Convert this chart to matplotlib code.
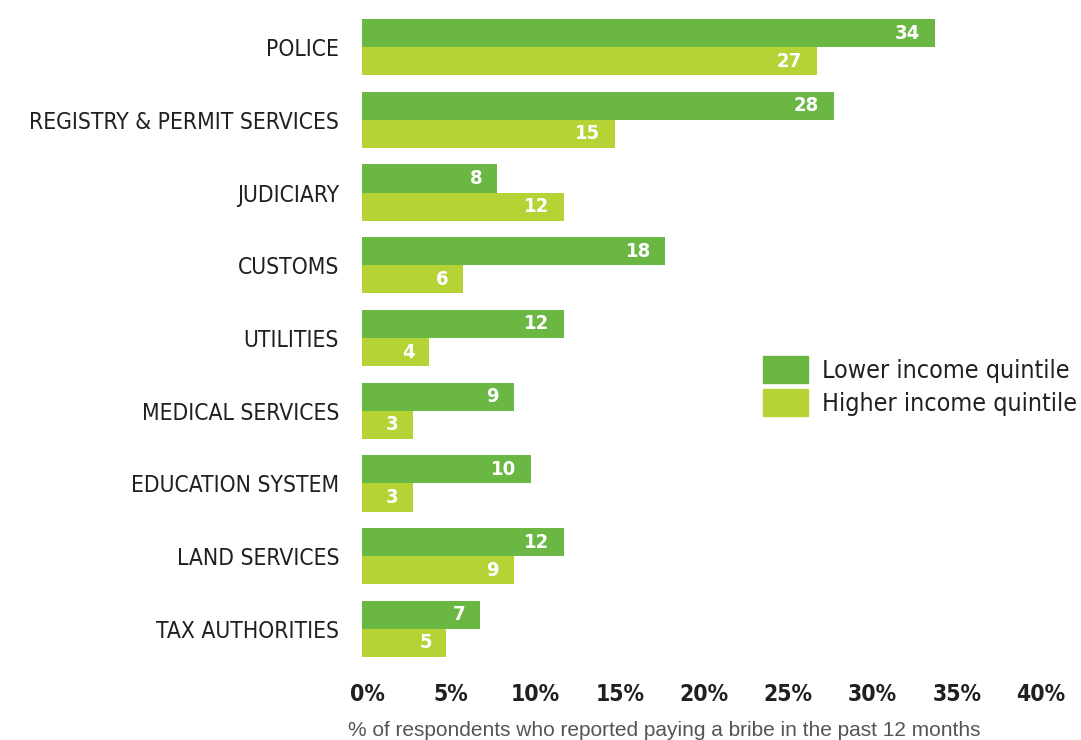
import matplotlib
matplotlib.use("Agg")
import matplotlib.pyplot as plt
import matplotlib.transforms as mtransforms
from matplotlib.patches import Patch
import numpy as np

categories = ["POLICE", "REGISTRY & PERMIT SERVICES", "JUDICIARY", "CUSTOMS",
              "UTILITIES", "MEDICAL SERVICES", "EDUCATION SYSTEM",
              "LAND SERVICES", "TAX AUTHORITIES"]
lower_income = [34, 28, 8, 18, 12, 9, 10, 12, 7]
higher_income = [27, 15, 12, 6, 4, 3, 3, 9, 5]
xticks = [0, 5, 10, 15, 20, 25, 30, 35, 40]
xtick_labels = ["0%", "5%", "10%", "15%", "20%", "25%", "30%", "35%", "40%"]

green = "#6ab843"
lime = "#b5d334"
dark = "#231f20"

fig = plt.figure(figsize=(10.81, 7.40), dpi=100)
ax = fig.add_axes([362 / 1081, 1 - 657 / 740, (1036 - 362) / 1081, (657 - 19) / 740])

y = np.arange(len(categories))
h = 0.385
b1 = ax.barh(y - h / 2, lower_income, height=h, color=green)
b2 = ax.barh(y + h / 2, higher_income, height=h, color=lime)

for bars, vals in [(b1, lower_income), (b2, higher_income)]:
    for bar, v in zip(bars, vals):
        ax.annotate(str(v), (bar.get_width(), bar.get_y() + bar.get_height() / 2),
                    xytext=(-10.5, 0), textcoords="offset points",
                    ha="right", va="center", color="white",
                    fontsize=14.5, fontweight="bold", fontstretch="condensed")

ax.set_xlim(0, 40)
ax.set_ylim(len(categories) - 1 + h, -h)
ax.set_yticks(y)
ax.set_yticklabels(categories, fontsize=16.4, color=dark, fontstretch="condensed")
ax.set_xticks(xticks)
ax.set_xticklabels(xtick_labels, fontsize=16.5, fontweight="bold", color=dark,
                   fontstretch="condensed")
ax.tick_params(axis="y", length=0, pad=16.5)
ax.tick_params(axis="x", length=0, pad=18.5)
shift = mtransforms.ScaledTranslation(5 / 100, 0, fig.dpi_scale_trans)
for lab in ax.get_xticklabels():
    lab.set_transform(lab.get_transform() + shift)
for s in ax.spines.values():
    s.set_visible(False)

fig.text(348 / 1081, 1 - 731 / 740, "% of respondents who reported paying a bribe in the past 12 months",
         ha="left", va="center", fontsize=15, color="#555555", family="Liberation Sans")

handles = [Patch(color=green), Patch(color=lime)]
ax.legend(handles, ["Lower income quintile", "Higher income quintile"],
          loc="upper left", bbox_to_anchor=(763 / 1081, 1 - 356 / 740),
          bbox_transform=fig.transFigure, frameon=False,
          prop={"size": 18, "stretch": "condensed"}, labelcolor=dark,
          handlelength=1.8, handleheight=1.3, handletextpad=0.55,
          labelspacing=0.22, borderpad=0, borderaxespad=0)

fig.savefig("out.png", dpi=100)
